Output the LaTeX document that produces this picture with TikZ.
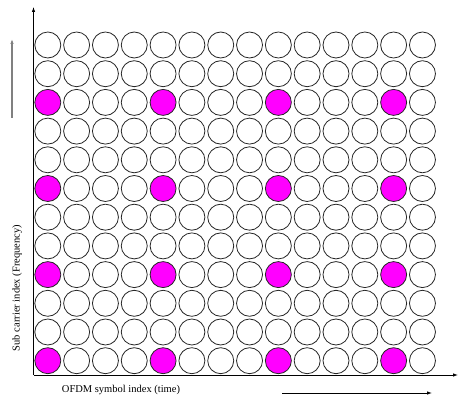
\documentclass[tikz,border=0pt]{standalone}
\usepackage{fontspec}
\setmainfont{Liberation Serif}
\usetikzlibrary{arrows.meta}
\definecolor{pilotmag}{RGB}{255,0,255}
\begin{document}
\begin{tikzpicture}[x=1pt,y=-1pt,
  cell/.style={circle,draw=black!85,line width=0.8pt,minimum size=26pt,inner sep=0pt},
  pilot/.style={cell,fill=pilotmag},
  axis/.style={line width=0.8pt,-{Latex[length=5pt,width=3.5pt]}},
  lbl/.style={font=\fontsize{10.5}{12}\selectfont}]
\useasboundingbox (0,0) rectangle (459,401);
\foreach \r in {1,...,12}{
  \foreach \c in {1,...,14}{
    \pgfmathsetmacro{\xx}{47.8+28.82*(\c-1)}
    \pgfmathsetmacro{\yy}{45+28.7*(\r-1)}
    \pgfmathtruncatemacro{\pr}{mod(\r,3)==0 ? 1 : 0}
    \pgfmathtruncatemacro{\pc}{mod(\c-1,4)==0 ? 1 : 0}
    \ifnum\pr\pc=11
      \node[pilot] (c-\r-\c) at (\xx,\yy) {};
    \else
      \node[cell] (c-\r-\c) at (\xx,\yy) {};
    \fi
  }
}
\coordinate (o) at (33.5,375);
\coordinate (ytop) at (33.5,7);
\coordinate (xend) at (458,375);
\draw[axis] (o) -- (ytop);
\draw[axis] (o) -- (xend);
\coordinate (fa) at (12,118);
\coordinate (fb) at (12,39);
\draw[axis,line width=1.2pt,draw=black!50,fill=black!50] (fa) -- (fb);
\coordinate (ta) at (282,393);
\coordinate (tb) at (432,393);
\draw[axis] (ta) -- (tb);
\node[lbl,rotate=90] (ylabel) at (17,288) {Sub carrier index (Frequency)};
\node[lbl] (xlabel) at (121,390) {OFDM symbol index (time)};
\end{tikzpicture}
\end{document}
